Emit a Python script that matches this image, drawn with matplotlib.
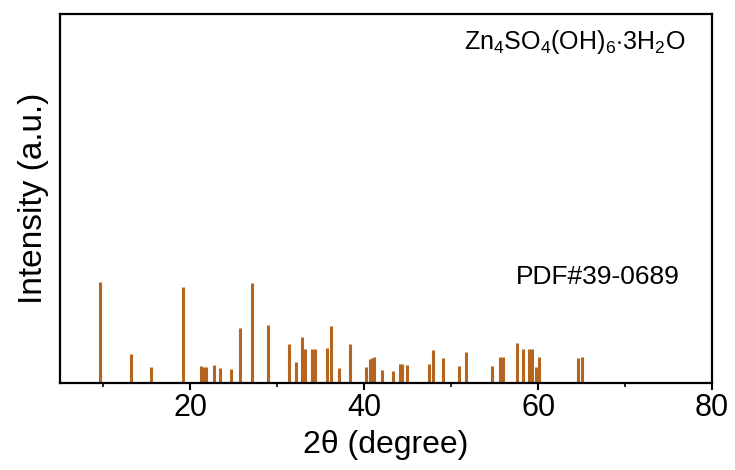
import numpy as np
import matplotlib.pyplot as plt

plt.rcParams['font.family'] = ['Liberation Sans', 'DejaVu Sans']
plt.rcParams['mathtext.fontset'] = 'custom'
plt.rcParams['mathtext.rm'] = 'Liberation Sans'

# PDF#39-0689 reference lines (2theta, relative intensity)
two_theta = [9.57, 13.18, 15.48, 19.16, 21.26, 21.5, 21.84, 22.68, 23.45, 24.68,
             25.67, 27.09, 28.89, 31.38, 32.18, 32.80, 33.14, 33.99, 34.29, 35.71,
             36.13, 37.05, 38.35, 40.23, 40.69, 40.95, 41.18, 42.10, 43.30, 44.14,
             44.40, 44.91, 47.47, 47.90, 49.12, 50.89, 51.70, 54.68, 55.63, 55.94,
             57.55, 58.31, 58.97, 59.28, 59.74, 60.16, 64.64, 65.02]
intensity = [100, 28.7, 15.5, 95, 17, 16, 16, 18, 14.5, 13.5,
             54, 99, 57, 38.6, 20.8, 45.8, 34, 34, 34, 35,
             56.4, 14.5, 38.6, 16, 23.4, 25, 26, 12.9, 11.9, 19,
             19, 18, 18.8, 32.3, 25, 17, 30.7, 17, 26, 26,
             39.3, 33.3, 33.3, 33.3, 16, 26, 24.4, 25.7]

fig = plt.figure(figsize=(7.35, 4.7), dpi=100)
ax = fig.add_axes([0.0816, 0.185, 0.887, 0.785])

ax.vlines(two_theta, 0, intensity, color='#B5651D', linewidth=2.2)

ax.set_xlim(5, 80)
ax.set_ylim(0, 365)
ax.set_xticks([20, 40, 60, 80])
ax.set_xticks(np.arange(10, 80, 10), minor=True)
ax.set_yticks([])
ax.tick_params(axis='x', which='major', direction='out', length=5, width=1.5, labelsize=22, pad=2)
ax.tick_params(axis='x', which='minor', direction='out', length=3, width=1.2)
for s in ax.spines.values():
    s.set_linewidth(1.6)

ax.set_xlabel('2θ (degree)', fontsize=23, labelpad=5)
ax.set_ylabel('Intensity (a.u.)', fontsize=24, labelpad=8)

ax.text(0.959, 0.924, r'Zn$_4$SO$_4$(OH)$_6$$\cdot$3H$_2$O', transform=ax.transAxes,
        ha='right', va='center', fontsize=18)
ax.text(0.951, 0.287, 'PDF#39-0689', transform=ax.transAxes,
        ha='right', va='center', fontsize=19)

fig.savefig('out.png', dpi=100)
